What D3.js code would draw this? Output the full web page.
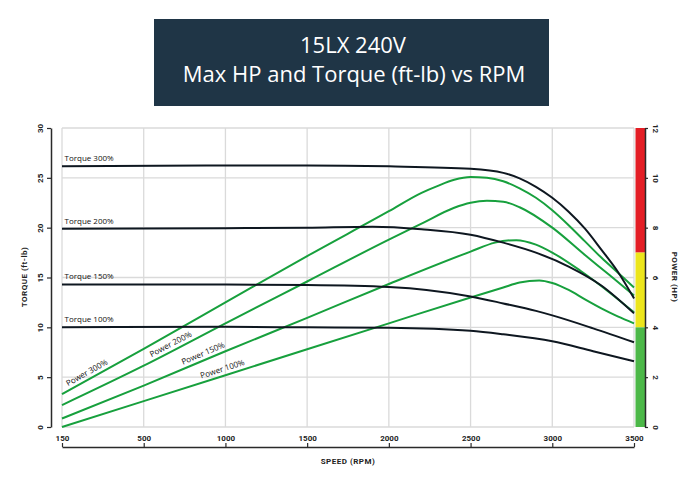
<!DOCTYPE html>
<html>
<head>
<meta charset="utf-8">
<script src="https://cdn.jsdelivr.net/npm/d3@7"></script>
<style>
  body { margin: 0; background: #fff; }
  svg { display: block; }
  .tick text { font-family: Roboto, "DejaVu Sans", sans-serif; font-weight: 700; font-size: 8px; fill: #222; }
</style>
</head>
<body>
<div id="chart"></div>
<script>
// ---- data ----
var rpmTicks = [150, 500, 1000, 1500, 2000, 2500, 3000, 3500];
var torqueTicks = [0, 5, 10, 15, 20, 25, 30];
var powerTicks = [0, 2, 4, 6, 8, 10, 12];

// torque curves, ft-lb
var torque300 = [[150, 26.15], [1000, 26.25], [1500, 26.25], [2000, 26.15], [2500, 25.9], [2700, 25.5], [2800, 24.95], [2900, 24.1], [3000, 23.0], [3100, 21.6], [3200, 19.9], [3300, 17.8], [3400, 15.6], [3500, 12.9]];
var torque200 = [[150, 19.9], [1000, 19.95], [1500, 20.0], [1900, 20.1], [2200, 19.85], [2500, 19.3], [2700, 18.5], [2900, 17.5], [3100, 16.1], [3300, 14.2], [3500, 11.4]];
var torque150 = [[150, 14.3], [1000, 14.3], [1500, 14.25], [2000, 14.05], [2500, 13.1], [2700, 12.4], [2900, 11.65], [3000, 11.2], [3250, 9.9], [3500, 8.5]];
var torque100 = [[150, 10.0], [1000, 10.05], [1500, 10.0], [2000, 9.95], [2500, 9.65], [2700, 9.3], [3000, 8.6], [3250, 7.6], [3500, 6.6]];

// power curves, HP
var power300 = [[150, 1.32], [500, 3.14], [1000, 5.0], [1500, 6.86], [2000, 8.66], [2200, 9.4], [2300, 9.68], [2400, 9.92], [2500, 10.03], [2600, 10.0], [2700, 9.86], [2800, 9.58], [2900, 9.2], [3000, 8.7], [3100, 8.1], [3200, 7.45], [3300, 6.8], [3400, 6.2], [3500, 5.6]];
var power200 = [[150, 0.88], [500, 2.46], [1000, 4.16], [1500, 5.84], [2000, 7.52], [2200, 8.16], [2400, 8.8], [2500, 9.0], [2600, 9.08], [2700, 9.04], [2800, 8.82], [3000, 8.0], [3200, 6.9], [3350, 6.1], [3500, 5.28]];
var power150 = [[150, 0.34], [500, 1.66], [1000, 3.04], [1500, 4.38], [2000, 5.74], [2500, 7.04], [2650, 7.4], [2780, 7.5], [2900, 7.32], [3000, 7.0], [3170, 6.28], [3350, 5.4], [3500, 4.6]];
var power100 = [[150, 0], [500, 1.04], [1000, 2.08], [1500, 3.12], [2000, 4.16], [2500, 5.2], [2700, 5.6], [2800, 5.8], [2920, 5.88], [3000, 5.78], [3100, 5.5], [3200, 5.12], [3300, 4.76], [3400, 4.44], [3500, 4.16]];

var torqueNames = ["Torque 300%", "Torque 200%", "Torque 150%", "Torque 100%"];
var powerNames = ["Power 300%", "Power 200%", "Power 150%", "Power 100%"];
var powerLabelRpm = [270, 684, 879, 994];

// power zones on the right bar (HP)
var zoneFrom = [7, 4, 0];
var zoneTo = [12, 7, 4];
var zoneColors = ["#e31e25", "#ece51c", "#4cb848"];

// ---- layout ----
var width = 697, height = 492;
var L = 62, R = 634, T = 128, B = 427;

var svg = d3.select("#chart").append("svg").attr("width", width).attr("height", height);

// title box
svg.append("rect").attr("x", 154).attr("y", 19).attr("width", 395).attr("height", 87).attr("fill", "#1f3546");
svg.append("text").attr("x", 353).attr("y", 52.7).attr("text-anchor", "middle")
    .attr("font-family", "Open Sans, sans-serif").attr("font-size", 22).attr("fill", "#fff")
    .text("15LX 240V");
svg.append("text").attr("x", 354).attr("y", 81.7).attr("text-anchor", "middle")
    .attr("font-family", "Open Sans, sans-serif").attr("font-size", 22).attr("fill", "#fff")
    .text("Max HP and Torque (ft-lb) vs RPM");

// scales - the first tick is labelled 150 but sits at the zero position
var x = d3.scaleLinear().domain([150, 500, 3500]).range([L, L + (R - L) * 500 / 3500, R]);
var yT = d3.scaleLinear().domain([0, 30]).range([B, T]);
var yP = d3.scaleLinear().domain([0, 12]).range([B, T]);

// grid
var grid = svg.append("g").attr("stroke", "#dadada").attr("stroke-width", 1.3);
grid.selectAll("line.v").data(rpmTicks).enter().append("line")
    .attr("x1", function(d) { return x(d); }).attr("x2", function(d) { return x(d); })
    .attr("y1", T).attr("y2", B);
grid.selectAll("line.h").data(torqueTicks).enter().append("line")
    .attr("x1", L).attr("x2", R)
    .attr("y1", function(d) { return yT(d); }).attr("y2", function(d) { return yT(d); });

// power zone bar
svg.append("g").selectAll("rect").data(zoneColors).enter().append("rect")
    .attr("x", R + 1.5).attr("width", 9.5)
    .attr("y", function(d, i) { return yP(zoneTo[i]); })
    .attr("height", function(d, i) { return yP(zoneFrom[i]) - yP(zoneTo[i]); })
    .attr("fill", function(d) { return d; });

// axes
var xAxis = svg.append("g").attr("transform", "translate(0," + 447 + ")")
    .call(d3.axisTop(x).tickValues(rpmTicks).tickFormat(d3.format("d")).tickSize(4).tickPadding(2).tickSizeOuter(0));
xAxis.select(".domain").attr("stroke", "#2a2a2a").attr("stroke-width", 1.5);
xAxis.selectAll(".tick line").attr("stroke", "#2a2a2a").attr("stroke-width", 1.2);

var yAxisL = svg.append("g").attr("transform", "translate(" + 51 + ",0)")
    .call(d3.axisLeft(yT).tickValues(torqueTicks).tickSize(4).tickSizeOuter(0));
yAxisL.select(".domain").attr("stroke", "#2a2a2a").attr("stroke-width", 1.5);
yAxisL.selectAll(".tick line").attr("stroke", "#2a2a2a").attr("stroke-width", 1.2);
yAxisL.selectAll(".tick text").attr("x", 0).attr("dy", 0)
    .attr("transform", "translate(-10,0) rotate(-90)").attr("text-anchor", "middle").attr("dominant-baseline", "middle");

var yAxisR = svg.append("g").attr("transform", "translate(" + 645 + ",0)")
    .call(d3.axisRight(yP).tickValues(powerTicks).tickSize(3).tickSizeOuter(0));
yAxisR.select(".domain").attr("stroke", "#2a2a2a").attr("stroke-width", 1.5);
yAxisR.selectAll(".tick line").attr("stroke", "#2a2a2a").attr("stroke-width", 1.2);
yAxisR.selectAll(".tick text").attr("x", 0).attr("dy", 0)
    .attr("transform", "translate(10,0) rotate(90)").attr("text-anchor", "middle").attr("dominant-baseline", "middle");

// axis titles
var titleStyle = function(sel) {
    sel.attr("font-family", "Roboto, sans-serif").attr("font-weight", 700).attr("font-size", 8)
       .attr("fill", "#222").attr("letter-spacing", 0.5).attr("text-anchor", "middle");
};
svg.append("text").attr("x", 348).attr("y", 464).call(titleStyle).text("SPEED (RPM)");
svg.append("text").attr("transform", "translate(27,277) rotate(-90)").call(titleStyle).text("TORQUE (ft-lb)");
svg.append("text").attr("transform", "translate(672,277) rotate(90)").call(titleStyle).text("POWER (HP)");

// curves
var lineT = d3.line().x(function(d) { return x(d[0]); }).y(function(d) { return yT(d[1]); }).curve(d3.curveMonotoneX);
var lineP = d3.line().x(function(d) { return x(d[0]); }).y(function(d) { return yP(d[1]); }).curve(d3.curveMonotoneX);

var torqueSeries = [torque300, torque200, torque150, torque100];
var powerSeries = [power300, power200, power150, power100];

svg.append("g").selectAll("path").data(powerSeries).enter().append("path")
    .attr("d", lineP).attr("fill", "none").attr("stroke", "#17a03d").attr("stroke-width", 2);
svg.append("g").selectAll("path").data(torqueSeries).enter().append("path")
    .attr("d", lineT).attr("fill", "none").attr("stroke", "#0e1720").attr("stroke-width", 2);

// torque labels
svg.append("g").selectAll("text").data(torqueSeries).enter().append("text")
    .attr("x", L + 2.5)
    .attr("y", function(d) { return yT(d[0][1]) - 5; })
    .attr("font-family", "Open Sans, sans-serif").attr("font-size", 8).attr("fill", "#111")
    .text(function(d, i) { return torqueNames[i]; });

// power labels along their lines
function labelPos(series, rpm) {
    var i = 1;
    while (i < series.length - 1 && series[i][0] < rpm) i++;
    var a = series[i - 1], b = series[i];
    var t = (rpm - a[0]) / (b[0] - a[0]);
    var px = x(rpm), py = yP(a[1] + t * (b[1] - a[1]));
    var ang = Math.atan2(yP(b[1]) - yP(a[1]), x(b[0]) - x(a[0])) * 180 / Math.PI;
    return { x: px, y: py, a: ang };
}
svg.append("g").selectAll("text").data(powerSeries).enter().append("text")
    .attr("transform", function(d, i) {
        var p = labelPos(d, powerLabelRpm[i]);
        return "translate(" + p.x + "," + p.y + ") rotate(" + p.a + ")";
    })
    .attr("y", -4).attr("text-anchor", "middle")
    .attr("font-family", "Open Sans, sans-serif").attr("font-size", 8).attr("fill", "#111")
    .text(function(d, i) { return powerNames[i]; });
</script>
</body>
</html>
